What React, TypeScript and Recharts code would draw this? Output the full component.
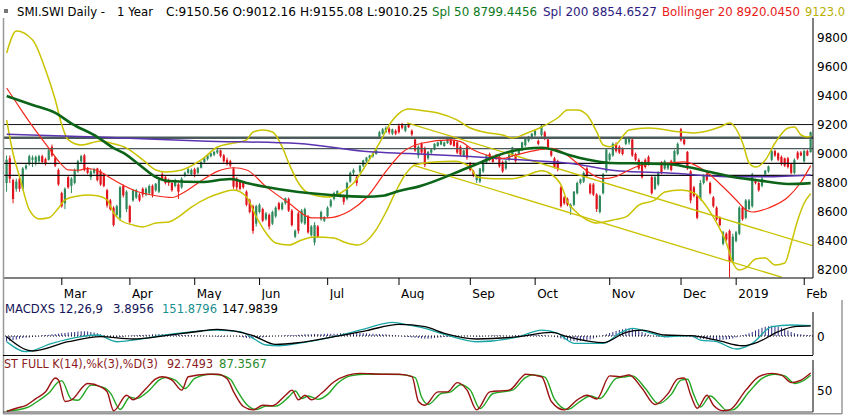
import React from "react";
import { ComposedChart, Bar, Line, XAxis, YAxis, ReferenceLine } from "recharts";

// daily candles, Feb 6 2018 .. Feb 5 2019: [open, high, low, close]
const ohlc: number[][] = [
  [8800, 8990, 8740, 8960], [8970, 8990, 8800, 8830], [8820, 8830, 8660, 8690], [8760, 8830, 8740, 8810],
  [8830, 8845, 8740, 8760], [8760, 8910, 8750, 8900], [8900, 8930, 8890, 8920], [8930, 8995, 8920, 8985],
  [8960, 8990, 8910, 8975], [8940, 8990, 8920, 8980], [8950, 8995, 8930, 8985], [8985, 8995, 8930, 8945],
  [8965, 8975, 8920, 8930], [8960, 9035, 8955, 9025], [9050, 9065, 8980, 8990], [8975, 8985, 8910, 8920],
  [8890, 8900, 8780, 8790], [8730, 8740, 8630, 8640], [8660, 8770, 8620, 8760], [8840, 8850, 8760, 8770],
  [8780, 8840, 8730, 8830], [8800, 8900, 8790, 8890], [8880, 8960, 8870, 8950], [8950, 8995, 8930, 8985],
  [8990, 9000, 8880, 8890], [8905, 8910, 8860, 8870], [8840, 8895, 8820, 8880], [8870, 8905, 8860, 8895],
  [8900, 8905, 8810, 8820], [8880, 8895, 8780, 8790], [8860, 8870, 8770, 8780], [8750, 8760, 8630, 8645],
  [8680, 8690, 8610, 8620], [8630, 8640, 8500, 8510], [8580, 8650, 8570, 8640], [8560, 8780, 8540, 8770],
  [8780, 8790, 8700, 8715], [8620, 8750, 8600, 8740], [8640, 8650, 8520, 8530], [8680, 8760, 8670, 8750],
  [8700, 8760, 8690, 8750], [8720, 8730, 8670, 8680], [8760, 8770, 8700, 8720], [8720, 8770, 8710, 8760],
  [8730, 8790, 8720, 8780], [8780, 8790, 8700, 8720], [8750, 8800, 8740, 8795], [8740, 8830, 8730, 8820],
  [8860, 8875, 8820, 8830], [8840, 8850, 8790, 8800], [8820, 8830, 8780, 8800], [8800, 8810, 8740, 8750],
  [8780, 8830, 8770, 8820], [8790, 8800, 8690, 8740], [8770, 8840, 8760, 8830], [8850, 8880, 8840, 8870],
  [8870, 8905, 8860, 8895], [8860, 8900, 8850, 8890], [8895, 8905, 8840, 8860], [8870, 8910, 8860, 8905],
  [8905, 8950, 8900, 8945], [8945, 8975, 8935, 8970], [8965, 8995, 8955, 8990], [8985, 9010, 8975, 9005],
  [8995, 9020, 8985, 9015], [9010, 9035, 9000, 9025], [9025, 9030, 8975, 8985], [8990, 9000, 8940, 8950],
  [8960, 8975, 8920, 8930], [8950, 8960, 8910, 8920], [8900, 8910, 8760, 8775], [8830, 8840, 8750, 8770],
  [8810, 8820, 8750, 8760], [8800, 8810, 8760, 8770], [8740, 8750, 8640, 8650], [8680, 8690, 8590, 8600],
  [8640, 8650, 8450, 8470], [8520, 8650, 8500, 8640], [8600, 8660, 8590, 8650], [8620, 8630, 8530, 8540],
  [8550, 8600, 8540, 8590], [8580, 8590, 8480, 8500], [8520, 8610, 8510, 8600], [8570, 8640, 8560, 8630],
  [8660, 8670, 8610, 8620], [8620, 8670, 8610, 8660], [8660, 8700, 8650, 8695], [8690, 8700, 8600, 8610],
  [8610, 8620, 8500, 8510], [8430, 8480, 8420, 8470], [8590, 8600, 8450, 8470], [8530, 8620, 8520, 8610],
  [8520, 8630, 8510, 8620], [8570, 8580, 8450, 8460], [8440, 8510, 8430, 8500], [8390, 8530, 8370, 8510],
  [8500, 8510, 8420, 8430], [8550, 8610, 8540, 8600], [8540, 8570, 8530, 8565], [8570, 8640, 8560, 8630],
  [8640, 8690, 8630, 8680], [8690, 8740, 8680, 8730], [8720, 8750, 8710, 8745], [8710, 8730, 8700, 8720],
  [8710, 8720, 8650, 8670], [8690, 8810, 8680, 8800], [8810, 8880, 8800, 8870], [8870, 8900, 8850, 8890],
  [8840, 8850, 8780, 8800], [8880, 8925, 8870, 8920], [8920, 8960, 8910, 8955], [8950, 8980, 8940, 8975],
  [8970, 8995, 8960, 8990], [8985, 9010, 8975, 9005], [9000, 9030, 8995, 9025], [9120, 9160, 9110, 9150],
  [9140, 9180, 9135, 9170], [9150, 9190, 9145, 9180], [9175, 9185, 9135, 9150], [9140, 9175, 9130, 9170],
  [9160, 9170, 9130, 9140], [9195, 9210, 9140, 9150], [9205, 9215, 9170, 9180], [9160, 9205, 9150, 9195],
  [9200, 9210, 9180, 9185], [9160, 9170, 9125, 9135], [9100, 9110, 9015, 9025], [8990, 9060, 8970, 9050],
  [9070, 9080, 9000, 9010], [9040, 9050, 8910, 8925], [8970, 9020, 8960, 9015], [9010, 9035, 9000, 9030],
  [9030, 9075, 9025, 9070], [9055, 9085, 9050, 9080], [9065, 9095, 9060, 9090], [9055, 9085, 9050, 9080],
  [9075, 9110, 9070, 9105], [9100, 9110, 9060, 9065], [9090, 9100, 9050, 9055], [9080, 9090, 9000, 9010],
  [9050, 9060, 8985, 8995], [8985, 9030, 8980, 9025], [9050, 9060, 8960, 8975], [8935, 8945, 8880, 8890],
  [8880, 8890, 8840, 8850], [8820, 8860, 8800, 8850], [8810, 8905, 8800, 8900], [8880, 8960, 8870, 8955],
  [8940, 8995, 8935, 8990], [9000, 9010, 8950, 8960], [8980, 8990, 8940, 8945], [8990, 9000, 8960, 8965],
  [8980, 8990, 8905, 8915], [8945, 8955, 8870, 8880], [8900, 8960, 8890, 8950], [8960, 9005, 8950, 8995],
  [8990, 9050, 8980, 9045], [8995, 9005, 8940, 8950], [9000, 9040, 8990, 9035], [9030, 9085, 9020, 9080],
  [9060, 9110, 9050, 9105], [9090, 9125, 9080, 9120], [9110, 9145, 9100, 9140], [9130, 9165, 9120, 9160],
  [9090, 9100, 9060, 9070], [9130, 9205, 9120, 9195], [9150, 9160, 9095, 9105], [9100, 9110, 9035, 9045],
  [9020, 9030, 8980, 8990], [8970, 8980, 8900, 8910], [8950, 8960, 8880, 8895], [8770, 8780, 8630, 8640],
  [8700, 8710, 8650, 8660], [8690, 8700, 8640, 8650], [8630, 8660, 8580, 8650], [8650, 8745, 8640, 8740],
  [8730, 8810, 8720, 8800], [8800, 8830, 8790, 8825], [8810, 8880, 8800, 8870], [8900, 8910, 8840, 8850],
  [8790, 8800, 8720, 8730], [8790, 8800, 8710, 8720], [8720, 8730, 8600, 8620], [8600, 8720, 8590, 8710],
  [8730, 8870, 8720, 8860], [8880, 9040, 8870, 9030], [8960, 9010, 8950, 9000], [8990, 9080, 8980, 9070],
  [9070, 9080, 9010, 9020], [9050, 9060, 9000, 9010], [9035, 9045, 8990, 9000], [9070, 9110, 9060, 9105],
  [9080, 9120, 9065, 9110], [9100, 9110, 8980, 8990], [9000, 9010, 8950, 8960], [8960, 8970, 8890, 8900],
  [8940, 8950, 8830, 8840], [8960, 8970, 8900, 8910], [8980, 8990, 8920, 8930], [8840, 8850, 8720, 8730],
  [8760, 8850, 8750, 8840], [8790, 8880, 8780, 8870], [8940, 8950, 8860, 8870], [8900, 8960, 8890, 8950],
  [8900, 8940, 8890, 8930], [8950, 8960, 8880, 8890], [8940, 9030, 8930, 9020], [9000, 9080, 8990, 9070],
  [9170, 9180, 9085, 9095], [9100, 9105, 9060, 9070], [9015, 9020, 8890, 8900], [8880, 8890, 8660, 8680],
  [8770, 8780, 8700, 8710], [8710, 8720, 8550, 8560], [8690, 8820, 8680, 8800], [8800, 8860, 8790, 8850],
  [8860, 8870, 8810, 8820], [8800, 8810, 8720, 8730], [8700, 8710, 8630, 8640], [8630, 8640, 8540, 8550],
  [8560, 8570, 8500, 8510], [8380, 8470, 8370, 8460], [8450, 8460, 8400, 8410], [8470, 8480, 8150, 8260],
  [8260, 8450, 8250, 8430], [8400, 8470, 8390, 8460], [8450, 8640, 8440, 8630], [8630, 8640, 8540, 8550],
  [8560, 8690, 8550, 8680], [8620, 8690, 8610, 8680], [8640, 8870, 8630, 8860], [8820, 8830, 8790, 8800],
  [8800, 8810, 8740, 8750], [8780, 8840, 8770, 8830], [8860, 8890, 8850, 8885], [8880, 8920, 8870, 8915],
  [8960, 9030, 8950, 9020], [9020, 9030, 8980, 8990], [9005, 9010, 8950, 8960], [8980, 8990, 8920, 8930],
  [8970, 8975, 8910, 8920], [8970, 8980, 8900, 8910], [8930, 8940, 8860, 8870], [8870, 8970, 8860, 8960],
  [9010, 9020, 8960, 8970], [9010, 9020, 8985, 8990], [8950, 9030, 8940, 9020], [9020, 9030, 8985, 8990],
  [9012.16, 9155.08, 9010.25, 9150.56],
];

// indicator lines, [day index, value]
const sma50 = [[0, 9400], [8, 9338], [15, 9283], [20, 9210], [28, 9117], [33, 9041], [36, 9007], [41, 8924], [46, 8841], [50, 8814], [60, 8807], [69, 8828], [74, 8800], [80, 8772], [90, 8738], [100, 8717], [111, 8705], [116, 8712], [121, 8745], [127, 8775], [143, 8912], [155, 9016], [165, 9043], [174, 8990], [179, 8962], [186, 8938], [193, 8936], [204, 8931], [210, 8910], [217, 8876], [224, 8841], [231, 8821], [241, 8793], [248, 8799]];
const sma200 = [[0, 9136], [30, 9115], [60, 9090], [90, 9072], [112, 9015], [124, 9003], [143, 8982], [162, 8955], [174, 8935], [189, 8882], [204, 8869], [224, 8843], [234, 8843], [248, 8855]];
const bbMid = [[0, 9455], [4, 9320], [8, 9190], [13, 9040], [17, 8925], [19, 8890], [22, 8888], [25, 8900], [29, 8876], [32, 8834], [39, 8752], [46, 8712], [51, 8700], [55, 8740], [60, 8815], [65, 8880], [70, 8905], [74, 8890], [80, 8775], [87, 8662], [94, 8560], [99, 8560], [106, 8610], [111, 8700], [117, 8880], [122, 9010], [128, 9074], [137, 9097], [140, 9085], [144, 9028], [148, 8993], [153, 8970], [157, 8993], [164, 9028], [168, 9039], [172, 9005], [176, 8936], [180, 8867], [184, 8830], [188, 8845], [192, 8890], [196, 8924], [204, 8938], [209, 8945], [214, 8903], [217, 8855], [221, 8772], [225, 8683], [228, 8614], [230, 8600], [235, 8628], [241, 8703], [245, 8807], [248, 8920]];
const bbUpper = [[0, 9697], [3, 9848], [8, 9786], [12, 9579], [15, 9372], [17, 9200], [19, 9097], [23, 9062], [29, 9090], [32, 9076], [37, 9041], [42, 8959], [46, 8890], [49, 8876], [54, 8890], [60, 8959], [65, 9048], [70, 9076], [74, 9097], [76, 9152], [79, 9166], [82, 9152], [85, 9048], [87, 8938], [90, 8800], [93, 8731], [99, 8703], [103, 8731], [107, 8800], [111, 8930], [115, 9076], [118, 9200], [121, 9280], [124, 9310], [128, 9300], [133, 9283], [139, 9234], [143, 9179], [147, 9152], [153, 9131], [156, 9110], [160, 9140], [165, 9186], [170, 9250], [173, 9303], [176, 9303], [179, 9269], [182, 9152], [184, 9062], [186, 9050], [188, 9066], [192, 9166], [198, 9179], [208, 9152], [212, 9145], [220, 9186], [223, 9214], [227, 9076], [229, 8938], [231, 8910], [234, 8959], [237, 9076], [241, 9179], [243, 9186], [245, 9131], [247, 9117], [248, 9123]];
const bbLower = [[0, 9234], [2, 9000], [4, 8841], [7, 8614], [10, 8552], [13, 8560], [16, 8628], [18, 8683], [22, 8710], [25, 8717], [28, 8712], [31, 8683], [33, 8593], [35, 8545], [39, 8510], [42, 8497], [46, 8524], [50, 8531], [53, 8566], [57, 8634], [62, 8697], [66, 8731], [70, 8752], [74, 8703], [77, 8566], [80, 8455], [83, 8386], [87, 8372], [91, 8407], [95, 8428], [101, 8421], [104, 8393], [108, 8372], [111, 8400], [114, 8480], [117, 8600], [120, 8740], [123, 8860], [126, 8925], [132, 8945], [138, 8950], [143, 8910], [145, 8841], [150, 8830], [156, 8830], [160, 8850], [165, 8885], [168, 8860], [171, 8786], [173, 8669], [175, 8614], [179, 8545], [182, 8524], [187, 8545], [191, 8566], [195, 8648], [200, 8683], [203, 8738], [208, 8752], [212, 8731], [216, 8634], [219, 8524], [222, 8386], [224, 8248], [226, 8200], [228, 8214], [231, 8276], [234, 8283], [237, 8234], [240, 8248], [242, 8386], [244, 8545], [246, 8662], [248, 8725]];

// support / resistance levels and the falling channel
const levels = [9203, 9112, 9037, 8936, 8853];
const levelColors = ["#111", "#4b5a5a", "#4b5a5a", "#111", "#111"];
const levelWidths = [1, 2.4, 1.4, 1.3, 1.3];
const channel = [
  [[123.5, 9214], [248.5, 8368]],
  [[125.3, 8924], [239, 8150]],
];

// MACD 12,26,9
const macd = [[0, -84], [6, -230], [14, -108], [23, -10], [28, 15], [34, -84], [39, -60], [49, 15], [60, 74], [64, 88], [72, 64], [76, -34], [80, -132], [84, -143], [90, -108], [101, -10], [111, 113], [119, 201], [124, 162], [129, 113], [135, 25], [145, -84], [158, -10], [165, 88], [170, 39], [175, -108], [184, -108], [189, 39], [193, 113], [199, 39], [203, -10], [211, 5], [214, -60], [219, -84], [225, -191], [230, -108], [236, 137], [242, 162], [248, 152]];
const signal = [[0, -10], [8, -220], [19, -84], [29, -10], [39, -44], [49, 5], [60, 74], [65, 98], [70, 74], [76, 5], [83, -123], [90, -98], [101, -10], [111, 80], [121, 172], [129, 137], [135, 39], [145, -44], [158, -10], [168, 54], [173, -10], [184, -98], [191, 54], [196, 88], [203, 15], [211, 5], [219, -60], [227, -143], [232, -84], [238, 64], [243, 137], [248, 148]];
const macdHist = [
  -80, -70, -60, -50, -40, -30, -25, -20, -15, -10, -5,
  10, 15, 20, 25, 30, 35, 40, 45, 50, 55, 60, 65, 70, 70, 65, 60, 50, 40,
  25, 10, -5, -15, -20, -20, -15, -10,
  0, 5, 10, 10, 15, 15, 20, 20, 25, 25, 30, 30, 30, 25, 25, 20, 20, 20, 15, 15, 10, 10, 5, 5,
  5, 0, -5, -5, -10, -10, -10, -5, -5, 0, -5, -10,
  -20, -30, -35, -35, -30, -25, -20, -15,
  -10, -5, 0, 5, 5, 10, 10, 15, 15, 20,
  20, 25, 25, 25, 30, 30, 30, 35, 35, 35, 35,
  35, 40, 40, 40, 40, 45, 45, 45, 40, 40, 35, 35, 30, 30, 25, 25, 20, 15, 10, 5,
  -5, -10, -15, -20, -25, -30, -35, -40, -40, -35, -30, -25, -20, -15,
  -10, -10, -5, -5, 0, 5, 5, 0, -5, -10, -10, -5, 0, 5, 10, 10, 10, 5, 5, 0, 5, 10, 15, 20, 20,
  25, 25, 20, 20, 15, 10, 5, 0, -10, -20,
  -35, -50, -60, -70, -75, -80, -75, -70, -60, -50, -35, -20,
  -5, 10, 25, 45, 60,
  75, 90, 100, 110, 110, 105, 90, 75, 60, 40,
  20, 5, -5, -10, -15, -20, -20, -15, -10, -5,
  0, 0, -5, -10,
  -20, -30, -40, -45, -50, -55, -55, -60, -60, -55, -50, -45, -35, -20,
  -5, 10, 25,
  40, 60, 80, 100, 120, 135, 145, 150, 145, 135, 120, 100, 80, 60,
  40, 30, 25, 20, 15, 10,
];

// full stochastic 14,3,3
const stochK = [[0, 1], [3, 9], [6, 16], [9, 32], [12, 48], [15, 81], [16, 76], [18, 25], [20, 29], [25, 68], [29, 60], [31, 48], [33, 3], [37, 40], [39, 29], [43, 56], [46, 79], [48, 84], [51, 76], [54, 52], [56, 84], [62, 90], [65, 90], [68, 79], [70, 48], [73, 13], [76, 5], [79, 16], [82, 15], [86, 40], [88, 52], [90, 29], [92, 40], [94, 29], [97, 44], [101, 72], [105, 87], [109, 92], [116, 90], [121, 90], [125, 84], [127, 25], [129, 16], [133, 48], [136, 48], [139, 70], [142, 52], [145, 5], [149, 48], [155, 52], [159, 84], [160, 90], [165, 84], [168, 25], [172, 5], [176, 29], [179, 40], [182, 31], [186, 86], [189, 84], [192, 88], [196, 56], [200, 18], [204, 44], [207, 79], [209, 81], [211, 40], [213, 9], [216, 40], [218, 16], [221, 3], [223, 5], [228, 52], [232, 84], [236, 92], [239, 88], [242, 70], [245, 76], [248, 92.75]];
const stochD = [[0, 3], [4, 6], [7, 13], [10, 28], [13, 45], [16, 72], [17, 74], [20, 30], [22, 28], [26, 64], [30, 58], [32, 45], [35, 6], [38, 35], [40, 32], [44, 52], [47, 76], [49, 82], [52, 76], [55, 56], [58, 80], [63, 90], [66, 88], [69, 78], [71, 52], [74, 18], [77, 6], [80, 14], [83, 14], [87, 36], [89, 50], [91, 32], [93, 38], [96, 30], [99, 42], [102, 68], [106, 86], [110, 90], [117, 90], [122, 89], [126, 82], [128, 35], [130, 18], [134, 44], [137, 48], [140, 65], [143, 52], [146, 8], [150, 44], [156, 52], [160, 82], [162, 88], [166, 83], [169, 30], [173, 6], [177, 26], [180, 38], [183, 32], [188, 80], [191, 84], [193, 86], [197, 56], [201, 20], [205, 42], [208, 76], [210, 78], [212, 40], [214, 12], [217, 38], [220, 18], [222, 4], [224, 5], [229, 48], [233, 80], [237, 90], [240, 86], [243, 68], [246, 76], [248, 87.36]];

const monthTicks = [17, 38, 58, 78, 99, 121, 143, 163, 186, 208, 225, 246];
const monthLabels = ["Mar", "Apr", "May", "Jun", "Jul", "Aug", "Sep", "Oct", "Nov", "Dec", "2019", "Feb"];
const priceTicks = [8200, 8400, 8600, 8800, 9000, 9200, 9400, 9600, 9800];

// header and panel captions: [text, x, width, colour]
const titleParts: [string, number, number, string][] = [
  ["SMI.SWI Daily -", 17, 88, "#000"],
  ["1 Year", 117, 36, "#000"],
  ["C:9150.56 O:9012.16 H:9155.08 L:9010.25", 166, 262, "#000"],
  ["Spl 50 8799.4456", 432, 105, "#0c7a1c"],
  ["Spl 200 8854.6527", 543, 114, "#2c1c80"],
  ["Bollinger 20 8920.0450", 662, 138, "#e8201a"],
  ["9123.0", 805, 40, "#b8b000"],
];
const macdParts: [string, number, number, string][] = [
  ["MACDXS 12,26,9", 5, 98, "#14145a"],
  ["3.8956", 113, 41, "#14145a"],
  ["151.8796", 162, 55, "#1a9090"],
  ["147.9839", 222, 56, "#000"],
];
const stochParts: [string, number, number, string][] = [
  ["ST FULL K(14),%k(3),%D(3)", 4, 154, "#8b1a1a"],
  ["92.7493", 167, 46, "#8b1a1a"],
  ["87.3567", 219, 48, "#2a8a2a"],
];

const FONT = "DejaVu Sans";
const UP = "#2e8a5c";
const DOWN = "#e0141c";
const YELLOW = "#c9c300";
const X_DOMAIN: [number, number] = [-0.83, 248.7];

const rows: any[] = ohlc.map(([o, h, l, c], i) => ({ i, o, h, l, c, range: [l, h], hist: macdHist[i] }));
const put = (key: string, pts: number[][]) => pts.forEach(([i, v]) => { rows[i][key] = v; });
put("sma50", sma50);
put("sma200", sma200);
put("mid", bbMid);
put("upper", bbUpper);
put("lower", bbLower);
put("macd", macd);
put("signal", signal);
put("k", stochK);
put("d", stochD);

function Candle(props: any) {
  const { x, y, width, height, payload } = props;
  if (x == null || !payload) return null;
  const top = Math.min(y, y + height);
  const span = Math.abs(height);
  const k = span / (payload.h - payload.l);
  const yo = top + (payload.h - payload.o) * k;
  const yc = top + (payload.h - payload.c) * k;
  const col = payload.c >= payload.o ? UP : DOWN;
  const cx = x + width / 2;
  return (
    <g>
      <line x1={cx} x2={cx} y1={top} y2={top + span} stroke={col} strokeWidth={1} />
      <rect x={cx - 1.1} y={Math.min(yo, yc)} width={2.2} height={Math.max(1, Math.abs(yc - yo))} fill={col} />
    </g>
  );
}

const MonthTick = ({ x, payload }: any) => {
  const label = monthLabels[monthTicks.indexOf(payload.value)];
  return (
    <g>
      <line x1={x} x2={x} y1={278} y2={285} stroke="#000" />
      <text x={x + 2} y={298} fontSize={12} fontFamily={FONT} fill="#000">{label}</text>
    </g>
  );
};

const RightTick = ({ y, payload }: any) => (
  <text x={817} y={y + 4.5} fontSize={12} fontFamily={FONT} fill="#000">{payload.value}</text>
);

const Caption = ({ parts, y }: { parts: [string, number, number, string][]; y: number }) => (
  <>
    {parts.map(([t, x, w, col]) => (
      <text key={t} x={x} y={y} fill={col} textLength={w} lengthAdjust="spacingAndGlyphs">{t}</text>
    ))}
  </>
);

const lineProps = { dot: false, activeDot: false, isAnimationActive: false, connectNulls: true, type: "monotone" as const };

export default function App() {
  return (
    <div style={{ position: "fixed", left: 0, top: 0, width: 850, height: 417, background: "#fff", overflow: "hidden" }}>
      <div style={{ position: "absolute", left: 0, top: 0 }}>
        <ComposedChart width={850} height={300} data={rows} margin={{ top: 18, right: 0, bottom: 0, left: 4 }}>
          <XAxis dataKey="i" type="number" domain={X_DOMAIN} allowDataOverflow ticks={monthTicks} interval={0}
            height={22} axisLine={{ stroke: "#000" }} tickLine={false} tick={MonthTick} />
          <YAxis orientation="right" width={37} type="number" domain={[8144.8, 9937.9]} allowDataOverflow
            ticks={priceTicks} interval={0} axisLine={{ stroke: "#000" }} tickLine={false} tick={RightTick} />
          {levels.map((v, n) => (
            <ReferenceLine key={v} y={v} stroke={levelColors[n]} strokeWidth={levelWidths[n]} />
          ))}
          {channel.map((seg, n) => (
            <ReferenceLine key={n} segment={seg.map(([x, y]) => ({ x, y }))} stroke={YELLOW} strokeWidth={1.3} />
          ))}
          <Bar dataKey="range" barSize={3} shape={Candle} isAnimationActive={false} />
          <Line dataKey="upper" stroke={YELLOW} strokeWidth={1.5} {...lineProps} />
          <Line dataKey="lower" stroke={YELLOW} strokeWidth={1.5} {...lineProps} />
          <Line dataKey="sma200" stroke="#5a34b0" strokeWidth={1.5} {...lineProps} />
          <Line dataKey="mid" stroke="#f5281c" strokeWidth={1.2} {...lineProps} />
          <Line dataKey="sma50" stroke="#0c6418" strokeWidth={2.6} {...lineProps} />
        </ComposedChart>
      </div>

      <div style={{ position: "absolute", left: 0, top: 300 }}>
        <ComposedChart width={850} height={56} data={rows} margin={{ top: 12, right: 0, bottom: 1, left: 4 }}>
          <XAxis dataKey="i" type="number" domain={X_DOMAIN} allowDataOverflow hide />
          <YAxis orientation="right" width={37} type="number" domain={[-279, 353]} allowDataOverflow
            ticks={[0]} axisLine={{ stroke: "#000" }} tickLine={false} tick={RightTick} />
          <ReferenceLine y={0} stroke="#000" strokeDasharray="1 2" />
          <Bar dataKey="hist" barSize={1} fill="#2c2c82" isAnimationActive={false} />
          <Line dataKey="macd" stroke="#1aa6a6" strokeWidth={1.3} {...lineProps} />
          <Line dataKey="signal" stroke="#000" strokeWidth={1.3} {...lineProps} />
        </ComposedChart>
      </div>

      <div style={{ position: "absolute", left: 0, top: 356 }}>
        <ComposedChart width={850} height={58} data={rows} margin={{ top: 4, right: 0, bottom: 2, left: 4 }}>
          <XAxis dataKey="i" type="number" domain={X_DOMAIN} allowDataOverflow hide />
          <YAxis orientation="right" width={37} type="number" domain={[0, 123.8]} allowDataOverflow
            ticks={[50]} axisLine={{ stroke: "#000" }} tickLine={false} tick={RightTick} />
          <Line dataKey="d" stroke="#22a622" strokeWidth={1.4} {...lineProps} />
          <Line dataKey="k" stroke="#9a1212" strokeWidth={1.4} {...lineProps} />
        </ComposedChart>
      </div>

      <svg width={850} height={417} style={{ position: "absolute", left: 0, top: 0, pointerEvents: "none" }}>
        <g fontFamily={FONT} fontSize={12}>
          <rect x={4} y={9} width={4} height={4} fill="#777" />
          <Caption parts={titleParts} y={16} />
          <Caption parts={macdParts} y={313} />
          <Caption parts={stochParts} y={368} />
        </g>
        <line x1={3.5} x2={3.5} y1={18} y2={414} stroke="#999" strokeWidth={1.5} />
        <line x1={3} x2={813} y1={355.5} y2={355.5} stroke="#000" />
        <line x1={3} x2={813} y1={412} y2={412} stroke="#444" />
        <line x1={3} x2={842} y1={413.8} y2={413.8} stroke="#999" strokeWidth={1.6} />
        <line x1={842} x2={842} y1={300} y2={414} stroke="#999" strokeWidth={1.5} />
      </svg>
    </div>
  );
}
